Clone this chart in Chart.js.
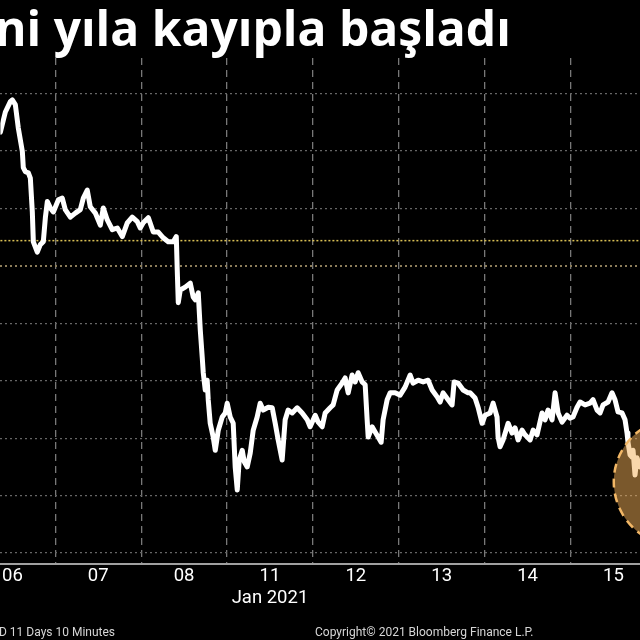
<!DOCTYPE html>
<html><head><meta charset="utf-8">
<script src="https://cdn.jsdelivr.net/npm/chart.js@4/dist/chart.umd.min.js"></script>
<style>html,body{margin:0;padding:0;background:#000;overflow:hidden}#wrap{width:640px;height:640px}</style>
</head><body><div id="wrap"><canvas id="c" width="640" height="640"></canvas></div>
<script>
const titleText = 'ni yıla kayıpla başladı';
const dayLabels = ['06', '07', '08', ['11', 'Jan 2021'], '12', '13', '14', '15'];
const dayCenters = [0.5, 1.5, 2.5, 3.5, 4.5, 5.5, 6.5, 7.5];
const dayBoundaries = [1, 2, 3, 4, 5, 6, 7];
const xRange = [0.36, 7.81];
const yRange = [-0.19, 8.62];
const yGridLevels = [0, 1, 2, 3, 4, 5, 6, 7, 8];
const refLevel = 5.44;
const highlightCenter = [8.25, 1.24];
const footerLeft = 'D 11 Days 10 Minutes';
const footerRight = 'Copyright\u00A9 2021 Bloomberg Finance L.P.';

const timeX = [0.360,0.418,0.476,0.499,0.534,0.569,0.616,0.627,0.651,0.686,0.709,0.732,0.744,0.790,0.825,0.860,0.884,0.907,0.942,0.977,1.035,1.081,1.116,1.175,1.233,1.291,1.326,1.372,1.407,1.466,1.524,1.559,1.605,1.664,1.722,1.780,1.838,1.896,1.955,1.989,2.024,2.083,2.141,2.199,2.257,2.315,2.374,2.409,2.420,2.432,2.455,2.513,2.572,2.606,2.630,2.665,2.688,2.711,2.723,2.746,2.769,2.781,2.804,2.839,2.863,2.898,2.944,2.979,3.002,3.037,3.072,3.095,3.119,3.142,3.177,3.200,3.235,3.270,3.305,3.351,3.386,3.421,3.480,3.526,3.561,3.596,3.642,3.677,3.712,3.759,3.817,3.875,3.934,3.968,4.027,4.062,4.108,4.143,4.201,4.236,4.283,4.341,4.376,4.411,4.457,4.492,4.527,4.574,4.609,4.632,4.644,4.690,4.725,4.760,4.795,4.818,4.865,4.900,4.958,5.016,5.074,5.133,5.167,5.226,5.284,5.342,5.389,5.447,5.482,5.517,5.575,5.621,5.645,5.691,5.750,5.808,5.831,5.889,5.924,5.971,6.006,6.064,6.099,6.145,6.157,6.180,6.215,6.274,6.320,6.355,6.390,6.436,6.471,6.530,6.565,6.611,6.669,6.704,6.739,6.786,6.821,6.856,6.902,6.960,6.995,7.030,7.077,7.112,7.170,7.228,7.263,7.310,7.345,7.380,7.438,7.484,7.519,7.554,7.601,7.636,7.659,7.670,7.694,7.717,7.729,7.752,7.775,7.810];
const priceY = [7.33,7.68,7.86,7.89,7.81,7.40,6.99,6.71,6.64,6.62,6.53,5.94,5.42,5.24,5.37,5.42,5.84,6.12,6.01,5.94,6.15,6.18,5.98,5.85,5.92,5.98,6.18,6.32,6.03,5.92,5.71,6.01,5.80,5.63,5.66,5.51,5.75,5.85,5.77,5.66,5.75,5.84,5.59,5.59,5.49,5.42,5.42,5.51,4.93,4.36,4.58,4.63,4.70,4.46,4.41,4.53,3.89,3.41,3.14,2.84,3.01,2.67,2.26,2.02,1.79,2.14,2.37,2.44,2.61,2.37,2.26,1.50,1.10,1.62,1.79,1.59,1.50,1.74,2.14,2.37,2.61,2.49,2.54,2.53,2.26,1.97,1.62,2.32,2.49,2.44,2.53,2.44,2.32,2.20,2.40,2.28,2.20,2.44,2.53,2.58,2.84,2.96,3.05,2.79,3.10,2.98,3.14,2.98,2.93,2.32,2.02,2.20,2.11,2.02,1.93,2.32,2.67,2.79,2.79,2.75,2.89,3.10,2.96,3.01,2.98,3.01,2.84,2.72,2.63,2.79,2.67,2.58,2.98,2.96,2.84,2.79,2.79,2.70,2.54,2.26,2.40,2.44,2.61,2.37,2.02,1.85,1.97,2.26,2.09,2.18,1.97,2.14,2.06,1.97,2.14,2.06,2.44,2.32,2.49,2.32,2.79,2.44,2.28,2.40,2.35,2.37,2.54,2.63,2.58,2.61,2.67,2.49,2.44,2.58,2.63,2.79,2.67,2.46,2.44,2.32,2.09,1.93,1.71,1.67,1.79,1.36,1.66,1.50];

const points = timeX.map((x, i) => ({x: x, y: priceY[i]}));

const labelFont = "'Liberation Sans Narrow', 'Roboto', sans-serif";

const decor = {
  id: 'decor',
  beforeDatasetsDraw(chart) {
    const {ctx, chartArea, scales} = chart;
    const y = scales.y.getPixelForValue(refLevel);
    ctx.save();
    ctx.strokeStyle = '#d9bf55';
    ctx.lineWidth = 1.5;
    ctx.setLineDash([2, 2]);
    ctx.beginPath();
    ctx.moveTo(chartArea.left, y);
    ctx.lineTo(chartArea.right, y);
    ctx.stroke();
    ctx.restore();
  },
  afterDatasetsDraw(chart) {
    const {ctx, scales} = chart;
    const cx = scales.x.getPixelForValue(highlightCenter[0]);
    const cy = scales.y.getPixelForValue(highlightCenter[1]);
    ctx.save();
    ctx.beginPath();
    ctx.arc(cx, cy, 64, 0, Math.PI * 2);
    ctx.fillStyle = 'rgba(244,176,88,0.5)';
    ctx.fill();
    ctx.setLineDash([9, 6]);
    ctx.lineWidth = 2.5;
    ctx.strokeStyle = '#f2b766';
    ctx.stroke();
    ctx.restore();
  },
  afterDraw(chart) {
    const {ctx} = chart;
    ctx.save();
    ctx.fillStyle = '#ffffff';
    ctx.textBaseline = 'alphabetic';
    ctx.textAlign = 'left';
    ctx.font = "bold 48px 'Open Sans', sans-serif";
    ctx.fillText(titleText, -5, 46);
    ctx.font = "12px " + labelFont;
    ctx.fillStyle = '#d6d6d6';
    ctx.fillText(footerLeft, -1, 636);
    ctx.fillText(footerRight, 315, 636);
    ctx.restore();
  }
};

new Chart(document.getElementById('c'), {
  type: 'line',
  data: {
    datasets: [{
      data: points,
      borderColor: '#ffffff',
      borderWidth: 5,
      pointRadius: 0,
      tension: 0,
      borderJoinStyle: 'round',
      borderCapStyle: 'round'
    }]
  },
  options: {
    responsive: false,
    animation: false,
    devicePixelRatio: 1,
    layout: {padding: {top: 58, left: 0, right: 0, bottom: 0}},
    plugins: {legend: {display: false}, tooltip: {enabled: false}, title: {display: false}},
    scales: {
      x: {
        type: 'linear', position: 'bottom', min: xRange[0], max: xRange[1],
        afterBuildTicks: s => { s.ticks = dayCenters.map(v => ({value: v})); },
        afterFit: s => { s.height = 76; },
        ticks: {
          autoSkip: false, maxRotation: 0, padding: 2, color: '#ffffff',
          font: {size: 18.5, family: labelFont, lineHeight: 1.15},
          callback: (v, i) => dayLabels[i]
        },
        grid: {display: false, drawTicks: false},
        border: {display: true, color: '#a0a0a0', width: 2}
      },
      xg: {
        type: 'linear', position: 'bottom', min: xRange[0], max: xRange[1],
        afterBuildTicks: s => { s.ticks = dayBoundaries.map(v => ({value: v})); },
        afterFit: s => { s.height = 0; },
        ticks: {display: false},
        grid: {display: true, drawTicks: false, color: '#787878', lineWidth: 1.3},
        border: {display: false, dash: [7, 5]}
      },
      y: {
        type: 'linear', min: yRange[0], max: yRange[1],
        afterBuildTicks: s => { s.ticks = yGridLevels.map(v => ({value: v})); },
        afterFit: s => { s.width = 0; },
        ticks: {display: false},
        grid: {
          drawTicks: false,
          color: c => (c.tick && c.tick.value === 5) ? '#8c7d5a' : '#666666',
          lineWidth: c => (c.tick && c.tick.value === 5) ? 2 : 1.2
        },
        border: {display: false, dash: [2, 3]}
      }
    }
  },
  plugins: [decor]
});
</script></body></html>
